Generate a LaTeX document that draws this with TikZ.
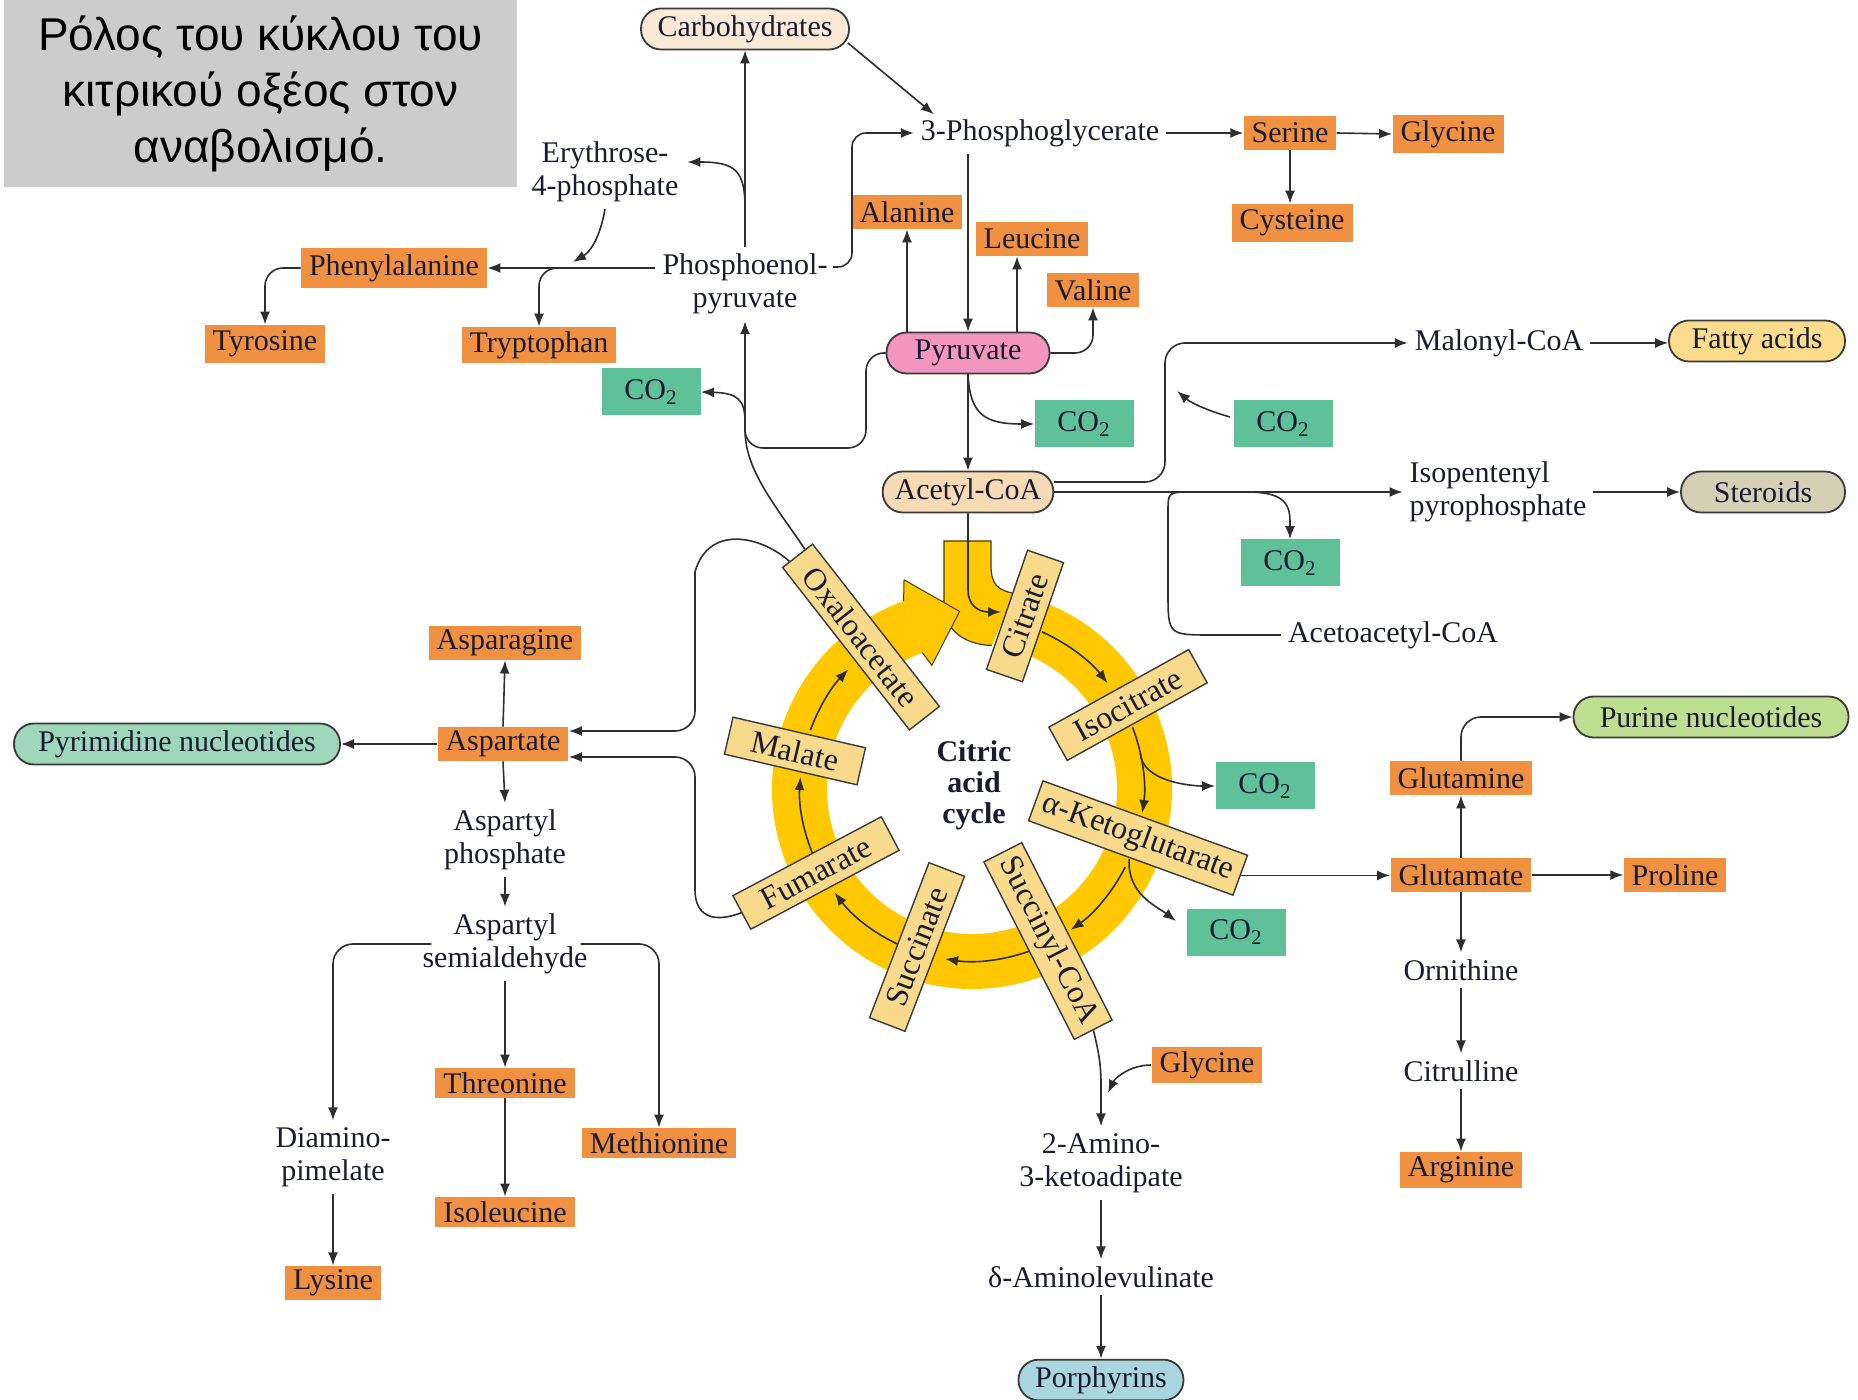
\documentclass[tikz,border=0pt]{standalone}
\usepackage{fontspec}
\setmainfont{Liberation Serif}
\newfontfamily\titlefont{Liberation Sans}
\usetikzlibrary{arrows.meta,calc}
\definecolor{orangec}{HTML}{F09141}
\definecolor{greenc}{HTML}{5EC19A}
\definecolor{pyrc}{HTML}{F296C0}
\definecolor{accc}{HTML}{F6DAB6}
\definecolor{carbc}{HTML}{FAE9D7}
\definecolor{fatc}{HTML}{FADC8C}
\definecolor{stec}{HTML}{D4D0B6}
\definecolor{porc}{HTML}{A8D5DE}
\definecolor{pyrimc}{HTML}{9ED6BC}
\definecolor{purc}{HTML}{BEDE91}
\definecolor{ringc}{HTML}{FFC800}
\definecolor{ringd}{HTML}{4A3C00}
\definecolor{cycc}{HTML}{F8DA8C}
\definecolor{titlec}{HTML}{CCCCCC}
\definecolor{txt}{HTML}{1B1B2F}
\definecolor{linec}{HTML}{2E2E2E}
\definecolor{boxd}{HTML}{3A3A3A}
\begin{document}
\begin{tikzpicture}[x=0.5pt,y=0.5pt,
  every node/.style={font=\fontsize{15}{16.5}\selectfont, text=txt},
  obox/.style={fill=orangec, inner xsep=4pt, inner ysep=2pt, minimum height=17pt},
  gbox/.style={fill=greenc, minimum width=49.5pt, minimum height=23.5pt},
  pill/.style={draw=boxd, line width=0.9pt, rounded corners=10pt, minimum height=20.5pt, inner xsep=6pt},
  plain/.style={align=center},
  cyc/.style={draw=boxd, line width=0.7pt, fill=cycc, minimum height=19pt, inner xsep=4pt, font=\fontsize{16}{18}\selectfont},
  arr/.style={draw=linec, line width=0.8pt, -{Latex[length=6.5pt,width=5pt]}},
  ln/.style={draw=linec, line width=0.8pt}]
\useasboundingbox (0,0) rectangle (1858,-1400);

% title
\node[fill=titlec, minimum width=256.5pt, minimum height=93.5pt, align=center,
  font=\titlefont\fontsize{23}{28}\selectfont, text=black] (title) at (260.5,-93.5)
  {Ρόλος του κύκλου του\\κιτρικού οξέος στον\\αναβολισμό.};

% ---- citric acid cycle graphics ----
\coordinate (C) at (972,-789);
\fill[ringc] ($(C)+(80:200)$) arc[start angle=80, end angle=-250, radius=200]
  -- ($(C)+(-250:145)$) arc[start angle=-250, end angle=80, radius=145] -- cycle;
\fill[ringc] (944,-541) -- (991,-541) -- (991,-565) .. controls (991,-585) and (998,-590) .. ($(C)+(78:200)$)
  -- ($(C)+(82:145)$) .. controls (965,-645) and (944,-630) .. (944,-605) -- cycle;
\draw[ringd, line width=0.6pt] ($(C)+(78:200)$) .. controls (998,-590) and (991,-585) .. (991,-565)
  -- (991,-541) -- (944,-541) -- (944,-605) .. controls (944,-630) and (965,-645) .. ($(C)+(82:145)$);
\filldraw[fill=ringc, draw=ringd, line width=0.5pt] ($(C)+(110:200)$) -- ($(C)+(108:220)$)
  -- ($(C)+(94:178)$) -- ($(C)+(108:130)$) -- ($(C)+(110:145)$);

\foreach \a/\b in {66/38, 21/-8, -27/-55, -68/-99, -109/-143, -154/-184, 160/136}
  \draw[arr] ($(C)+(\a:172)$) arc[start angle=\a, end angle=\b, radius=172];

% ---- nodes ----
\node[pill, fill=carbc, minimum width=104pt] (carb) at (745,-29) {Carbohydrates};
\node (pg3) at (1040,-133) {3-Phosphoglycerate};
\node[obox] (ser) at (1290,-133) {Serine};
\node[obox, minimum height=19pt] (gly1) at (1448,-134) {Glycine};
\node[obox, minimum height=19pt] (cys) at (1292,-223) {Cysteine};
\node[obox] (ala) at (907,-212) {Alanine};
\node[obox] (leu) at (1032,-239) {Leucine};
\node[obox] (val) at (1093,-290) {Valine};
\node[pill, fill=pyrc, minimum width=81.5pt] (pyr) at (968,-353) {Pyruvate};
\node[plain] (e4p) at (605,-172) {Erythrose-\\4-phosphate};
\node[plain] (pep) at (745,-284) {Phosphoenol-\\pyruvate};
\node[obox, minimum height=20pt] (phe) at (394,-268) {Phenylalanine};
\node[obox, minimum height=19pt] (tyr) at (265,-344) {Tyrosine};
\node[obox, minimum height=18pt] (trp) at (539,-345) {Tryptophan};
\node[gbox] (co2a) at (651,-392) {CO\textsubscript{2}};
\node[gbox] (co2b) at (1084,-424) {CO\textsubscript{2}};
\node[gbox] (co2c) at (1283,-424) {CO\textsubscript{2}};
\node[pill, fill=accc, minimum width=81.5pt] (acc) at (968,-492) {Acetyl-CoA};
\node (mal) at (1499,-343) {Malonyl-CoA};
\node[pill, fill=fatc, minimum width=88pt] (fat) at (1757,-341) {Fatty acids};
\node[align=left] (ipp) at (1498,-492) {Isopentenyl\\pyrophosphate};
\node[pill, fill=stec, minimum width=82pt] (ste) at (1763,-492) {Steroids};
\node[gbox] (co2d) at (1290,-563) {CO\textsubscript{2}};
\node (aca) at (1393,-635) {Acetoacetyl-CoA};
\node[gbox] (co2e) at (1265,-786) {CO\textsubscript{2}};
\node[gbox] (co2f) at (1236,-932) {CO\textsubscript{2}};
\node[obox] (asn) at (505,-643) {Asparagine};
\node[obox] (asp) at (503,-744) {Aspartate};
\node[pill, fill=pyrimc, minimum width=163pt] (pyrim) at (177,-744) {Pyrimidine nucleotides};
\node[plain] (asph) at (505,-840) {Aspartyl\\phosphate};
\node[plain] (assa) at (505,-944) {Aspartyl\\semialdehyde};
\node[obox, minimum height=15pt] (thr) at (505,-1083) {Threonine};
\node[obox, minimum height=15pt] (met) at (659,-1143) {Methionine};
\node[obox, minimum height=15pt] (ile) at (505,-1212) {Isoleucine};
\node[plain] (dap) at (333,-1157) {Diamino-\\pimelate};
\node[obox] (lys) at (333,-1283) {Lysine};
\node[obox, minimum height=18pt] (gly2) at (1207,-1065) {Glycine};
\node[plain] (ak) at (1101,-1163) {2-Amino-\\3-ketoadipate};
\node (ala5) at (1101,-1277) {δ-Aminolevulinate};
\node[pill, fill=porc, minimum width=82.5pt, minimum height=19pt] (por) at (1101,-1380) {Porphyrins};
\node[obox] (gln) at (1461,-778) {Glutamine};
\node[pill, fill=purc, minimum width=137.5pt] (pur) at (1711,-717) {Purine nucleotides};
\node[obox] (glu) at (1461,-875) {Glutamate};
\node[obox] (pro) at (1675,-875) {Proline};
\node (orn) at (1461,-970) {Ornithine};
\node (cit2) at (1461,-1071) {Citrulline};
\node[obox, minimum height=18pt] (arg) at (1461,-1170) {Arginine};

% cycle labels
\node[cyc, rotate=71, minimum width=63pt] (citr) at (1025,-616) {Citrate};
\node[cyc, rotate=29, minimum width=80pt] (iso) at (1128,-705) {Isocitrate};
\node[cyc, rotate=-20, minimum width=108pt] (akg) at (1138,-838) {α-Ketoglutarate};
\node[cyc, rotate=-63, minimum width=98pt] (scoa) at (1048,-941) {Succinyl-CoA};
\node[cyc, rotate=69, minimum width=83pt] (succ) at (917,-947) {Succinate};
\node[cyc, rotate=28, minimum width=84pt] (fum) at (816,-873) {Fumarate};
\node[cyc, rotate=-13, minimum width=68pt] (mala) at (795,-751) {Malate};
\node[cyc, rotate=-52, minimum width=103pt] (oxa) at (861,-637) {Oxaloacetate};
\node[font=\bfseries\fontsize{15}{15.5}\selectfont, align=center] (cac) at (974,-785) {Citric\\acid\\cycle};

% ---- connectors ----
\draw[arr] (pep.north) -- (carb.south);
\draw[arr] ($(carb.east)+(-2,-14)$) -- ($(pg3.north west)+(20,-2)$);
\draw[arr, rounded corners=7pt] ($(pep.center)+(88,17)$) -- ++(19,0) |- (pg3.west);
\coordinate (jE) at (745,-208);
\draw[arr] (jE) .. controls (745,-170) and (735,-162) .. ($(e4p.east)+(2,10)$);
\coordinate (jphe) at (573,-262);
\draw[arr] (e4p.south) .. controls (600,-238) and (590,-252) .. (jphe);
\draw[arr] (pep.west |- phe.east) -- (phe.east);
\coordinate (jtrp) at (562,-268);
\draw[arr, rounded corners=9pt] (jtrp) -| (trp.north);
\draw[arr, rounded corners=9pt] (phe.west) -| (tyr.north);

\draw[arr] (ala.south |- pyr.north) -- (ala.south);
\draw[arr] (pg3.south -| pyr.north) -- (pyr.north);
\draw[arr] ($(pyr.north)+(49,0)$) -- ($(leu.south)+(-15,0)$);
\draw[arr, rounded corners=9pt] (pyr.east) -| (val.south);
\draw[arr] (pg3.east) -- (ser.west);
\draw[arr] (ser.east) -- (gly1.west);
\draw[arr] (ser.south) -- (ser.south |- cys.north);

\coordinate (jpp) at (866,-448);
\draw[arr, rounded corners=9pt] (pyr.west) -| (jpp) -| (pep.south);
\draw[ln] ($(oxa.west)!0.5!(oxa.north west)$) .. controls (775,-505) and (745,-470) .. (745,-430);
\coordinate (jco2a) at (745,-422);
\draw[arr] (jco2a) .. controls (745,-400) and (738,-393) .. (co2a.east);

\draw[arr] (pyr.south) .. controls (970,-415) and (985,-424) .. (co2b.west);
\draw[arr] (pyr.south) -- (acc.north);

\coordinate (jmal) at (1165,-343);
\draw[arr, rounded corners=10pt] ($(acc.east)+(0,10)$) -| (jmal) -- (mal.west);
\coordinate (jco2c) at (1177,-391);
\draw[arr] ($(co2c.west)+(-3,7)$) .. controls (1205,-410) and (1190,-402) .. (jco2c);
\draw[arr] (mal.east) -- (mal.east -| fat.west);
\draw[arr] (acc.east) -- (ipp.west);
\coordinate (jaca) at (1192,-492);
\draw[ln] (aca.west) -- (1212,-635) .. controls (1168,-635) .. (1168,-592) -- (1168,-512) .. controls (1168,-492) .. (jaca);
\coordinate (jco2d) at (1246,-492);
\draw[arr] (jco2d) .. controls (1282,-492) and (1290,-502) .. (1290,-522) -- (co2d.north);
\draw[arr] (ipp.east) -- (ste.west);

\coordinate (jcit) at (1001,-612);
\draw[arr] (acc.south) -- (968,-590) .. controls (968,-605) and (978,-612) .. (jcit);

\coordinate (jiso) at ($(C)+(12:172)$);
\draw[arr] (jiso) .. controls +(2,-28) and +(-25,0) .. (co2e.west);
\coordinate (jakg) at ($(C)+(-24:172)$);
\draw[arr] (jakg) .. controls +(-2,-35) and +(-20,15) .. ($(co2f.west)+(-10,11)$);

\draw[arr] ($(oxa.west)!0.5!(oxa.south west)$) .. controls (760,-535) and (708,-525) .. (695,-572)
  [rounded corners=10pt] -- (695,-731) -- ($(asp.east)+(0,13)$);
\draw[arr] (fum.west) .. controls (712,-924) and (695,-915) .. (695,-890)
  [rounded corners=10pt] -- (695,-757) -- ($(asp.east)+(0,-13)$);
\draw[arr] (asp.north) -- (asn.south);
\draw[arr] (asp.west) -- (pyrim.east);
\draw[arr] (asp.south) -- (asph.north);
\draw[arr] (asph.south) -- (assa.north);
\draw[arr] (assa.south) -- (thr.north);
\draw[arr] (thr.south) -- (ile.north);
\draw[arr, rounded corners=10pt] ($(assa.west)+(16,0)$) -| (dap.north);
\draw[arr, rounded corners=10pt] ($(assa.east)+(-14,0)$) -| (met.north);
\draw[arr] (dap.south) -- (lys.north);

\draw[arr] (scoa.east) .. controls (1098,-1050) and (1101,-1062) .. (1101,-1085) -- (ak.north);
\coordinate (jgly) at (1108,-1093);
\draw[arr] (gly2.west) .. controls (1130,-1065) and (1115,-1078) .. (jgly);
\draw[arr] (ak.south) -- (ala5.north);
\draw[arr] (ala5.south) -- (por.north);

\draw[arr] (akg.east) -- (akg.east -| glu.west);
\draw[arr] (glu.north) -- (gln.south);
\draw[arr, rounded corners=10pt] (gln.north) |- (pur.west);
\draw[arr] (glu.east) -- (pro.west);
\draw[arr] (glu.south) -- (orn.north);
\draw[arr] (orn.south) -- (cit2.north);
\draw[arr] (cit2.south) -- (arg.north);
\end{tikzpicture}
\end{document}
